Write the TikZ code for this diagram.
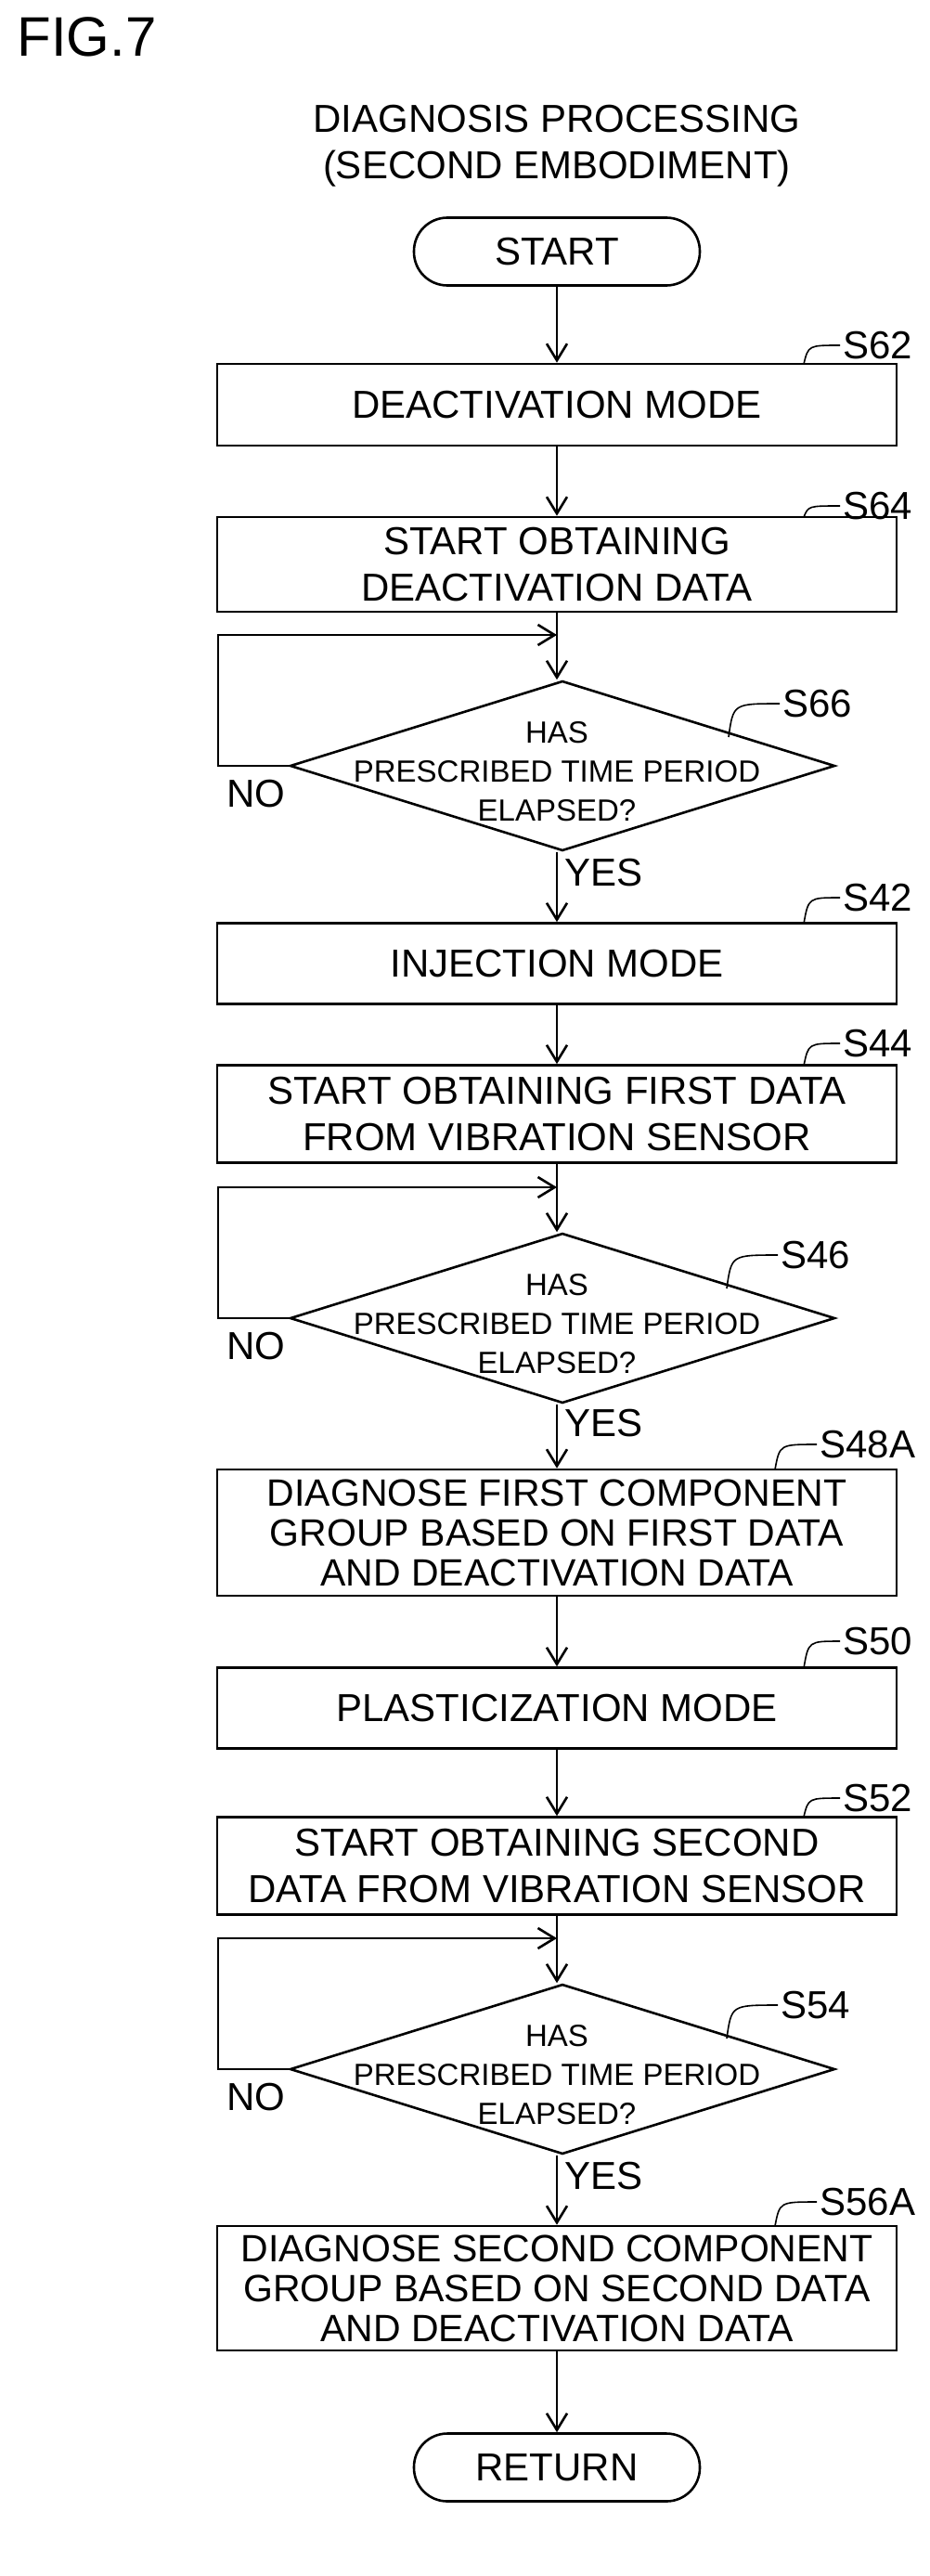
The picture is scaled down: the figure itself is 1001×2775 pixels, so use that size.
\documentclass[tikz,border=0pt]{standalone}
\usepackage{fontspec}
\setmainfont{Liberation Sans}
\usetikzlibrary{shapes.geometric,arrows.meta}
\begin{document}
\begin{tikzpicture}[x=1pt,y=-1pt,line width=2.6pt,
  txt/.style={font=\fontsize{42}{50}\selectfont},
  box/.style={draw,rectangle,minimum width=732pt,txt,align=center,inner sep=0pt},
  box3/.style={box,font=\fontsize{41}{43}\selectfont},
  term/.style={draw,rounded corners=36pt,minimum width=308pt,minimum height=73pt,txt},
  dec/.style={draw,diamond,minimum width=587pt,minimum height=183pt,inner sep=0pt},
  dtxt/.style={font=\fontsize{33}{42}\selectfont,align=center},
  lbl/.style={txt},
  arr/.style={-{Straight Barb[length=18pt,width=22pt]}}]
\useasboundingbox (0,0) rectangle (1001,2775);
\node[anchor=west,font=\fontsize{60}{66}\selectfont] (fig) at (14,40) {FIG.7};
\node[txt,align=center] (title) at (600,157) {DIAGNOSIS PROCESSING\\(SECOND EMBODIMENT)};
\node[term] (start) at (600,271) {START};
\node[box,minimum height=88pt] (s62) at (600,436) {DEACTIVATION MODE};
\node[box,minimum height=102pt] (s64) at (600,608) {START OBTAINING\\DEACTIVATION DATA};
\node[dec] (d66) at (606,825) {};
\node[dtxt] (t66) at (600,831) {HAS\\PRESCRIBED TIME PERIOD\\ELAPSED?};
\node[box,minimum height=87pt] (s42) at (600,1038) {INJECTION MODE};
\node[box,minimum height=105pt] (s44) at (600,1200) {START OBTAINING FIRST DATA\\FROM VIBRATION SENSOR};
\node[dec] (d46) at (606,1420) {};
\node[dtxt] (t46) at (600,1426) {HAS\\PRESCRIBED TIME PERIOD\\ELAPSED?};
\node[box3,minimum height=136pt] (s48) at (600,1651) {DIAGNOSE FIRST COMPONENT\\GROUP BASED ON FIRST DATA\\AND DEACTIVATION DATA};
\node[box,minimum height=87pt] (s50) at (600,1840) {PLASTICIZATION MODE};
\node[box,minimum height=105pt] (s52) at (600,2010) {START OBTAINING SECOND\\DATA FROM VIBRATION SENSOR};
\node[dec] (d54) at (606,2229) {};
\node[dtxt] (t54) at (600,2235) {HAS\\PRESCRIBED TIME PERIOD\\ELAPSED?};
\node[box3,minimum height=134pt] (s56) at (600,2465) {DIAGNOSE SECOND COMPONENT\\GROUP BASED ON SECOND DATA\\AND DEACTIVATION DATA};
\node[term] (ret) at (600,2658) {RETURN};
% step labels
\foreach \n/\t/\x/\y/\bx/\by in {a/S62/905/372/866/392, b/S64/905/545/866/557, c/S66/840/758/785/794,
  d/S42/905/967/866/995, e/S44/905/1124/866/1148, f/S46/838/1352/783/1388,
  g/S48A/880/1556/835/1583, h/S50/905/1768/866/1797, i/S52/905/1937/866/1957,
  j/S54/838/2160/783/2196, k/S56A/880/2372/835/2398}{
  \node[lbl,anchor=west,inner sep=2pt] (L\n) at (\x,\y) {\t};
  \coordinate (B\n) at (\bx,\by);
  \draw[line width=1.6pt] (B\n) .. controls (\bx+5,\y) .. (L\n.west);
}
\draw[arr] (start) -- (s62);
\draw[arr] (s62) -- (s64);
\draw[arr] (s64) -- (d66.north -| s64);
\draw[arr] (d66.south -| s64) -- (s42) node[pos=0.3,anchor=west,txt,xshift=4pt]{YES};
\draw[arr] (s42) -- (s44);
\draw[arr] (s44) -- (d46.north -| s44);
\draw[arr] (d46.south -| s44) -- (s48) node[pos=0.3,anchor=west,txt,xshift=4pt]{YES};
\draw[arr] (s48) -- (s50);
\draw[arr] (s50) -- (s52);
\draw[arr] (s52) -- (d54.north -| s52);
\draw[arr] (d54.south -| s52) -- (s56) node[pos=0.3,anchor=west,txt,xshift=4pt]{YES};
\draw[arr] (s56) -- (ret);
\foreach \d/\ly in {d66/684, d46/1279, d54/2088}{
  \coordinate (T\d) at (600,\ly);
  \draw[arr] (\d.west) -- (235,0 |- \d.west) -- (235,\ly) -- (T\d);
  \node[txt,anchor=west] at ([yshift=-30pt]240,0 |- \d.west) {NO};
}
\end{tikzpicture}
\end{document}
